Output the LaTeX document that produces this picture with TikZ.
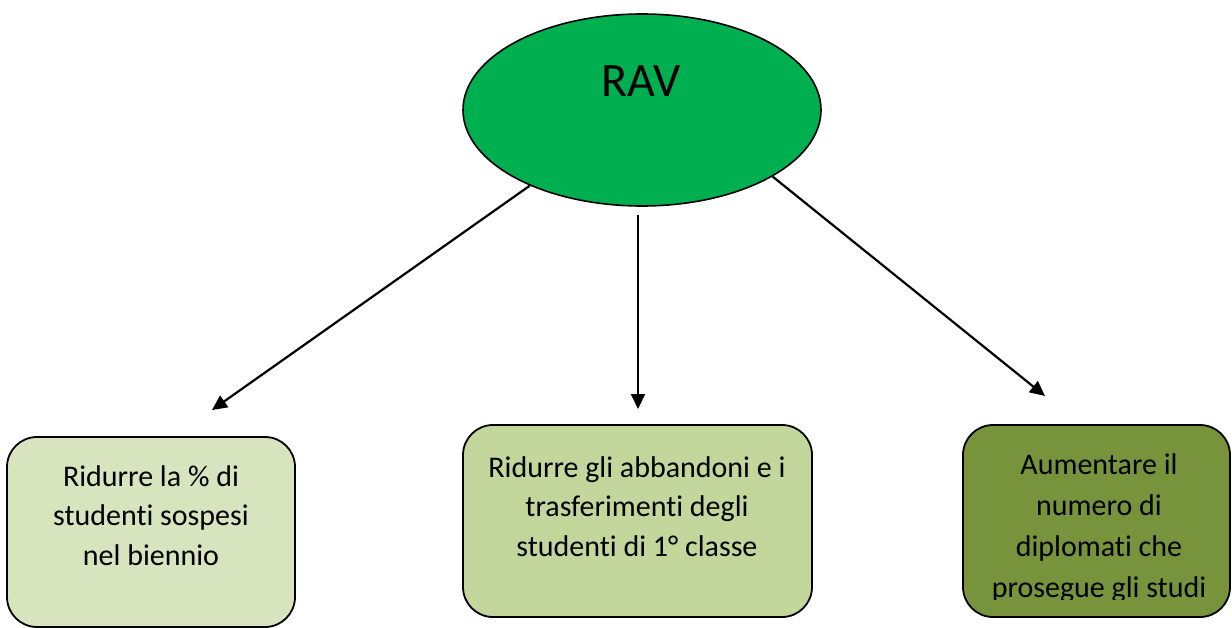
\documentclass[tikz,border=0pt]{standalone}
\usepackage{fontspec}
\setmainfont[Ligatures=NoCommon]{Carlito}
\usetikzlibrary{shapes.geometric,arrows.meta}
\definecolor{ravgreen}{HTML}{00B050}
\definecolor{boxA}{HTML}{D7E4BD}
\definecolor{boxB}{HTML}{C3D69B}
\definecolor{boxC}{HTML}{77933C}
\tikzset{
  ravshape/.style={ellipse, draw=black, line width=1.6pt, fill=ravgreen, minimum width=358pt, minimum height=192pt, inner sep=0pt},
  goalbox/.style={draw=black, line width=1.8pt, rounded corners=30pt, inner sep=0pt},
  goaltext/.style={anchor=north, inner sep=0pt, align=center, font=\fontsize{30}{39.5}\selectfont},
  conn/.style={line width=2.2pt, -{Triangle[length=15pt,width=14pt]}}
}
\begin{document}
\begin{tikzpicture}[x=1pt,y=-1pt]
\useasboundingbox (0,0) rectangle (1232,628);
% central ellipse
\node[ravshape] (rav) at (642,110) {};
\node[inner sep=0pt, font=\fontsize{48}{52}\selectfont] (ravlabel) at (641,81) {RAV};
% boxes
\node[goalbox, fill=boxA, minimum width=288pt, minimum height=190pt] (b1) at (151,532) {};
\node[goalbox, fill=boxB, minimum width=349pt, minimum height=192pt] (b2) at (637.5,521) {};
\node[goalbox, fill=boxC, minimum width=267pt, minimum height=192pt] (b3) at (1096.5,521) {};
\node[goaltext] (t1) at (151,456) {\rule{0pt}{30pt}Ridurre la \% di\\studenti sospesi\\nel biennio};
\node[goaltext] (t2) at (637,447) {\rule{0pt}{30pt}Ridurre gli abbandoni e i\\trasferimenti degli\\studenti di 1° classe};
\begin{scope}
  \clip (963,420) rectangle (1232,599);
  \node[goaltext, font=\fontsize{30}{41}\selectfont] (t3) at (1099,444) {\rule{0pt}{30pt}Aumentare il\\numero di\\diplomati che\\prosegue gli studi};
\end{scope}
% arrow targets
\coordinate (e1) at (212,410);
\coordinate (e2) at (638,409);
\coordinate (e3) at (1045,396);
\coordinate (m0) at (638,215);
\draw[conn] (rav.214.3) -- (e1);
\draw[conn] (m0) -- (e2);
\draw[conn] (rav.-27.8) -- (e3);
\end{tikzpicture}
\end{document}
